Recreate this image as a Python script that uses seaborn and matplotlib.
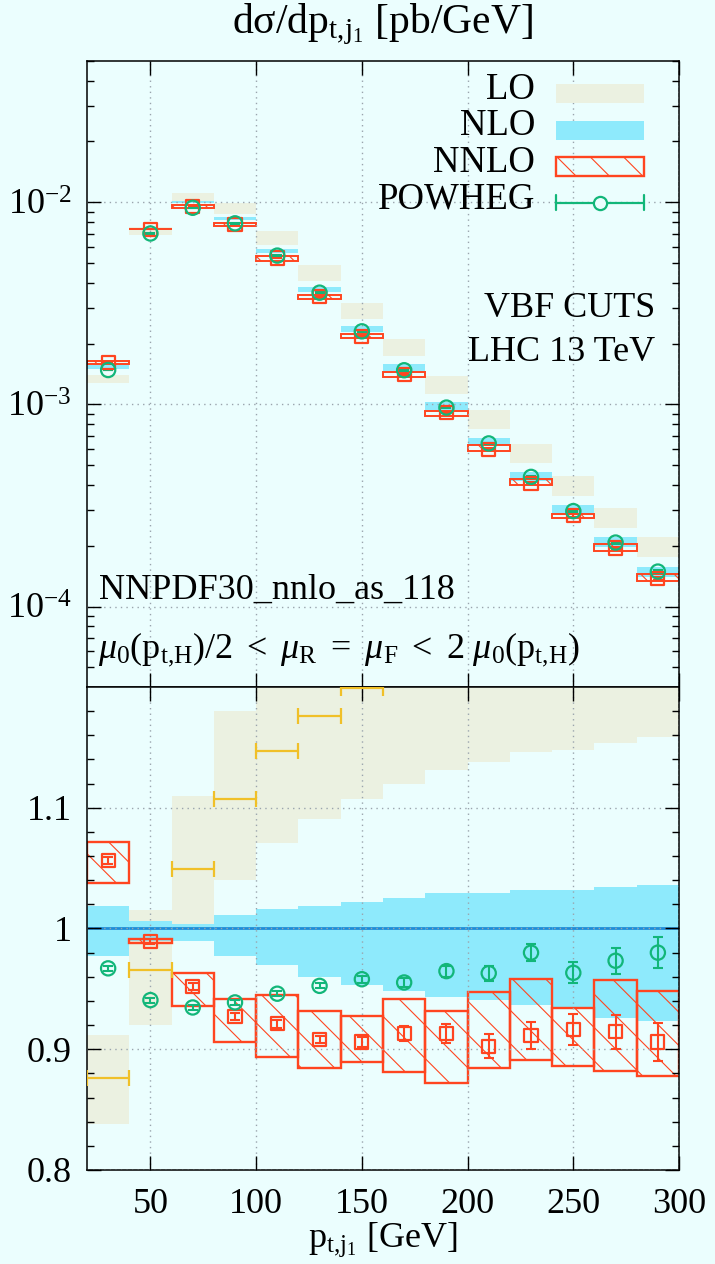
import numpy as np
import matplotlib
matplotlib.use("Agg")
import matplotlib.pyplot as plt
import seaborn as sns
from matplotlib.ticker import FixedLocator, LogLocator, NullFormatter, FuncFormatter
from matplotlib.patches import Rectangle
from matplotlib.lines import Line2D

# ---------------- data ----------------
bin_edges = [20, 40, 60, 80, 100, 120, 140, 160, 180, 200, 220, 240, 260, 280, 300]

# NLO central cross section per bin [pb/GeV]
nlo_xs = [1.53e-3, 7.45e-3, 1.005e-2, 8.38e-3, 5.76e-3, 3.75e-3, 2.40e-3,
          1.545e-3, 1.0e-3, 6.66e-4, 4.47e-4, 3.08e-4, 2.13e-4, 1.52e-4]

# ratios to NLO central
nlo_lo_r = [0.977, 0.990, 0.990, 0.977, 0.970, 0.960, 0.953,
            0.948, 0.943, 0.941, 0.937, 0.934, 0.926, 0.923]
nlo_hi_r = [1.019, 1.006, 1.004, 1.011, 1.016, 1.019, 1.022,
            1.025, 1.029, 1.029, 1.032, 1.032, 1.034, 1.036]

lo_lo_r = [0.838, 0.920, 1.004, 1.040, 1.071, 1.091, 1.107,
           1.120, 1.131, 1.138, 1.146, 1.148, 1.154, 1.159]
lo_hi_r = [0.912, 1.015, 1.110, 1.180, 1.256, 1.300, 1.323,
           1.358, 1.383, 1.403, 1.419, 1.443, 1.450, 1.457]
lo_c_r = [0.876, 0.966, 1.049, 1.107, 1.147, 1.176, 1.199,
          1.230, 1.250, 1.260, 1.275, 1.290, 1.295, 1.300]

nnlo_c_r = [1.056, 0.989, 0.952, 0.927, 0.921, 0.908, 0.906,
            0.913, 0.913, 0.9025, 0.9116, 0.9163, 0.9144, 0.906]
nnlo_lo_r = [1.0375, 0.9877, 0.9357, 0.906, 0.8936, 0.8845, 0.8895,
             0.8812, 0.872, 0.8845, 0.8909, 0.8861, 0.882, 0.8778]
nnlo_hi_r = [1.072, 0.9913, 0.9633, 0.9415, 0.9448, 0.9318, 0.9274,
             0.9415, 0.9318, 0.947, 0.9581, 0.9338, 0.957, 0.9481]
nnlo_err_r = [0.003, 0.002, 0.003, 0.003, 0.003, 0.003, 0.004,
              0.006, 0.008, 0.0098, 0.0112, 0.013, 0.0142, 0.016]

pw_c_r = [0.967, 0.9407, 0.9346, 0.9388, 0.946, 0.9525, 0.958,
          0.9553, 0.9647, 0.963, 0.980, 0.9633, 0.9733, 0.980]
pw_err_r = [0.002, 0.002, 0.002, 0.002, 0.002, 0.002, 0.003,
            0.004, 0.0045, 0.0062, 0.0073, 0.0087, 0.0107, 0.0127]

legend_labels = ["LO", "NLO", "NNLO", "POWHEG"]
x_ticks = [50, 100, 150, 200, 250, 300]
ratio_ticks = [0.8, 0.9, 1.0, 1.1]

# ---------------- style ----------------
BG = "#ebfefe"
LO_C = "#ebf1e1"
NLO_C = "#8eeafc"
RED = "#ff4520"
GREEN = "#12b679"
YEL = "#f0c028"
BLUE = "#1e8cd8"
GRID = "#9aa4ad"

sns.set_style("ticks")
plt.rcParams.update({
    "font.family": ["Liberation Serif", "DejaVu Serif"],
    "mathtext.fontset": "custom",
    "mathtext.rm": "Liberation Serif",
    "mathtext.it": "Liberation Serif:italic",
    "mathtext.bf": "Liberation Serif:bold",
    "hatch.linewidth": 0.8,
    "axes.edgecolor": "black",
    "axes.linewidth": 1.1,
    "xtick.color": "black",
    "ytick.color": "black",
    "text.color": "black",
})

edges = np.array(bin_edges, dtype=float)
centers = (edges[:-1] + edges[1:]) / 2
widths = np.diff(edges)
nlo = np.array(nlo_xs)

arr = lambda a: np.array(a, dtype=float)

fig = plt.figure(figsize=(7.15, 12.64), dpi=100, facecolor=BG)
ax1 = fig.add_axes([0.12168, 0.45649, 0.8280, 0.49525], facecolor=BG)
ax2 = fig.add_axes([0.12168, 0.07437, 0.8280, 0.38212], facecolor=BG)

for ax, base in [(ax1, nlo), (ax2, np.ones_like(nlo))]:
    if ax is ax1:
        ax.set_yscale("log")
    lo_lo = arr(lo_lo_r) * base
    lo_hi = arr(lo_hi_r) * base
    ax.bar(centers, lo_hi - lo_lo, bottom=lo_lo, width=widths, color=LO_C,
           lw=0, zorder=1.0)
    n_lo = arr(nlo_lo_r) * base
    n_hi = arr(nlo_hi_r) * base
    ax.bar(centers, n_hi - n_lo, bottom=n_lo, width=widths, color=NLO_C,
           lw=0, zorder=1.1)
    nn_lo = arr(nnlo_lo_r) * base
    nn_hi = arr(nnlo_hi_r) * base
    ax.bar(centers, nn_hi - nn_lo, bottom=nn_lo, width=widths,
           facecolor="none", edgecolor=RED, hatch="\\",
           lw=1.7 if ax is ax2 else 1.4, zorder=1.2)
    if ax is ax2:
        ax.hlines(nlo / nlo, edges[:-1], edges[1:], color=BLUE, lw=2.0, zorder=1.3)
        ax.errorbar(centers, arr(lo_c_r), xerr=widths / 2, fmt="none",
                    ecolor=YEL, elinewidth=1.6, capsize=5.5, capthick=1.6,
                    zorder=3)
    ax.errorbar(centers, arr(nnlo_c_r) * base, yerr=arr(nnlo_err_r) * base,
                fmt="none", ecolor=RED, elinewidth=1.5, capsize=3.6,
                capthick=1.5, zorder=3)
    sns.scatterplot(x=centers, y=arr(nnlo_c_r) * base, ax=ax, marker="s",
                    s=90, color=RED, facecolor="none", edgecolor=RED,
                    linewidth=1.6, zorder=4)
    ax.errorbar(centers, arr(pw_c_r) * base, yerr=arr(pw_err_r) * base,
                fmt="none", ecolor=GREEN, elinewidth=1.5, capsize=3.6,
                capthick=1.5, zorder=3)
    sns.scatterplot(x=centers, y=arr(pw_c_r) * base, ax=ax, marker="o",
                    s=105, color=GREEN, facecolor="none", edgecolor=GREEN,
                    linewidth=1.6, zorder=4)

    ax.set_xlim(edges[0], edges[-1])
    ax.xaxis.set_major_locator(FixedLocator(x_ticks))
    ax.set_axisbelow(False)
    ax.grid(True, which="major", color=GRID, lw=1.0, ls=(0, (1, 3)))
    ax.tick_params(which="both", direction="in", top=True, right=True,
                   labelsize=26, width=1.0)
    ax.tick_params(which="major", length=10, pad=11)
    ax.tick_params(which="minor", length=5)
    ax.tick_params(axis="x", which="minor", length=0)
    ax.set_xlabel("")
    ax.set_ylabel("")
    for s in ax.spines.values():
        s.set_visible(True)
        s.set_linewidth(1.1)

# top panel axes
ax1.set_ylim(4e-5, 5e-2)
ax1.yaxis.set_major_locator(LogLocator(base=10, numticks=10))
ax1.yaxis.set_minor_locator(LogLocator(base=10, subs=np.arange(2, 10), numticks=20))
ax1.yaxis.set_minor_formatter(NullFormatter())
ax1.tick_params(axis="x", labelbottom=False)

# bottom panel axes
ax2.set_ylim(0.8, 1.2)
ax2.yaxis.set_major_locator(FixedLocator(ratio_ticks))
ax2.yaxis.set_minor_locator(FixedLocator([0.82, 0.84, 0.86, 0.88, 0.92, 0.94,
                                          0.96, 0.98, 1.02, 1.04, 1.06, 1.08,
                                          1.12, 1.14, 1.16, 1.18]))
ax2.yaxis.set_major_formatter(FuncFormatter(lambda v, p: f"{v:g}"))
ax2.tick_params(axis="x", pad=13)

# ---------------- legend (drawn by hand, like the reference) ----------------
tr = ax1.transAxes
lab_x = 0.757
base_y = [0.9393, 0.8818, 0.8232, 0.7636]
for lab, yb in zip(legend_labels, base_y):
    ax1.text(lab_x, yb, lab, transform=tr, ha="right", va="baseline",
             fontsize=26.5, zorder=7)
sx0, sx1 = 0.7917, 0.9414
ax1.add_patch(Rectangle((sx0, 0.9324), sx1 - sx0, 0.0304, transform=tr,
                        facecolor=LO_C, lw=0, zorder=6, clip_on=False))
ax1.add_patch(Rectangle((sx0, 0.8738), sx1 - sx0, 0.0308, transform=tr,
                        facecolor=NLO_C, lw=0, zorder=6, clip_on=False))
ax1.add_patch(Rectangle((sx0, 0.8163), sx1 - sx0, 0.0303, transform=tr,
                        facecolor="none", edgecolor=RED, hatch="\\", lw=1.7,
                        zorder=6, clip_on=False))
py = 0.7736
ax1.add_line(Line2D([sx0, sx1], [py, py], transform=tr, color=GREEN, lw=1.6, zorder=6))
for xx in (sx0, sx1):
    ax1.add_line(Line2D([xx, xx], [py - 0.012, py + 0.012], transform=tr,
                        color=GREEN, lw=1.6, zorder=6))
ax1.add_line(Line2D([(sx0 + sx1) / 2], [py], transform=tr, marker="o",
                    ms=9.5, mfc=BG, mec=GREEN, mew=1.6, zorder=7))

# ---------------- annotations ----------------
ax1.text(0.96, 0.591, "VBF CUTS", transform=tr, ha="right", va="baseline",
         fontsize=26)
ax1.text(0.96, 0.5208, "LHC 13 TeV", transform=tr, ha="right", va="baseline",
         fontsize=26)
ax1.text(0.021, 0.1406, "NNPDF30_nnlo_as_118", transform=tr, ha="left",
         va="baseline", fontsize=26)
ax1.text(0.018, 0.048,
         r"$\mu_0(\mathrm{p}_{\mathrm{t{,}H}})/2\ <\ \mu_\mathrm{R}\ =\ \mu_\mathrm{F}\ <\ 2\ \mu_0(\mathrm{p}_{\mathrm{t{,}H}})$",
         transform=tr, ha="left", va="baseline", fontsize=26)

fig.text(0.5357, 0.9735, r"dσ/dp$_{\mathrm{t{,}j}_1}$ [pb/GeV]", ha="center",
         va="baseline", fontsize=30)
fig.text(0.5357, 0.0134, r"p$_{\mathrm{t{,}j}_1}$ [GeV]", ha="center",
         va="baseline", fontsize=26)

fig.savefig("out.png", dpi=100, facecolor=BG)
